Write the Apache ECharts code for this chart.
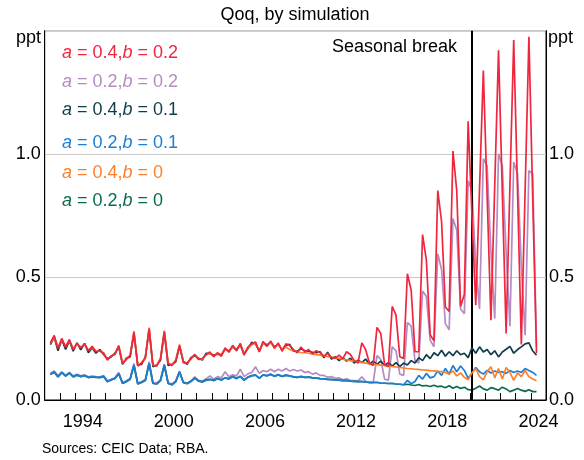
<!DOCTYPE html>
<html>
<head>
<meta charset="utf-8">
<script src="https://cdn.jsdelivr.net/npm/echarts@6/dist/echarts.min.js"></script>
<style>html,body{margin:0;padding:0;background:#fff}#c{width:584px;height:460px}</style>
</head>
<body>
<div id="c"></div>
<script>
// Quarterly observations, 1992 Q2 to 2024 Q2
const firstYear = 1992, firstQ = 2, nObs = 129;
const quarters = [];
for (let i = 0; i < nObs; i++) {
  const k = (firstQ - 1) + i;
  quarters.push((firstYear + Math.floor(k / 4)) + 'Q' + (k % 4 + 1));
}
const breakQuarter = '2020Q1';
const yTicks = [0, 0.5, 1.0];
const xTickLabels = [1994, 2000, 2006, 2012, 2018, 2024];
const xTickYears = [1993,1994,1995,1996,1997,1998,1999,2000,2001,2002,2003,2004,2005,2006,2007,2008,
  2009,2010,2011,2012,2013,2014,2015,2016,2017,2018,2019,2020,2021,2022,2023,2024];

const red = [
0.232,0.262,0.210,
0.250,0.215,0.246,0.205, 0.230,0.212,0.228,0.200, 0.218,0.196,0.200,0.190, 0.162,0.180,0.185,0.220,
0.148,0.165,0.180,0.276, 0.138,0.150,0.170,0.290, 0.140,0.138,0.168,0.278, 0.148,0.140,0.160,0.222,
0.152,0.150,0.168,0.185, 0.165,0.168,0.185,0.195, 0.176,0.192,0.178,0.212, 0.195,0.222,0.200,0.230,
0.182,0.215,0.228,0.236, 0.195,0.238,0.218,0.240, 0.210,0.232,0.198,0.228, 0.222,0.205,0.192,0.215,
0.195,0.205,0.188,0.200, 0.192,0.178,0.190,0.172, 0.170,0.182,0.168,0.196, 0.185,0.160,0.150,0.232,
0.205,0.150,0.140,0.295, 0.270,0.143,0.135,0.380, 0.345,0.176,0.169,0.513, 0.446,0.196,0.196,0.672,
0.567,0.265,0.240,0.851, 0.725,0.378,0.360,1.011, 0.850,0.380,0.430,1.132, 0.750,0.385,0.860,1.338,
0.830,0.324,0.870,1.420, 0.840,0.270,0.870,1.462, 0.850,0.226,0.850,1.475,
0.820,0.190];
const lilac = [
0.108,0.118,0.098,
0.114,0.100,0.112,0.097, 0.104,0.098,0.102,0.094, 0.097,0.095,0.094,0.099, 0.078,0.084,0.090,0.112,
0.071,0.078,0.088,0.148, 0.069,0.075,0.083,0.156, 0.071,0.069,0.083,0.146, 0.071,0.065,0.078,0.118,
0.073,0.069,0.077,0.094, 0.080,0.076,0.086,0.098, 0.085,0.095,0.090,0.115, 0.095,0.102,0.098,0.125,
0.095,0.106,0.112,0.135, 0.108,0.120,0.115,0.125, 0.115,0.125,0.118,0.128, 0.118,0.124,0.118,0.122,
0.112,0.115,0.105,0.110, 0.100,0.100,0.092,0.095, 0.088,0.090,0.082,0.086, 0.080,0.079,0.078,0.094,
0.076,0.068,0.070,0.180, 0.165,0.085,0.080,0.216, 0.200,0.105,0.100,0.315, 0.300,0.160,0.150,0.443,
0.420,0.243,0.216,0.594, 0.530,0.310,0.285,0.737, 0.690,0.370,0.350,0.890, 0.850,0.550,0.370,0.980,
0.950,0.600,0.330,1.000, 0.950,0.600,0.300,0.967, 0.920,0.550,0.263,0.932,
0.918,0.220];
const teal = [
0.225,0.255,0.200,
0.245,0.205,0.240,0.198, 0.232,0.204,0.230,0.192, 0.212,0.190,0.205,0.185, 0.168,0.175,0.190,0.215,
0.145,0.170,0.175,0.270, 0.142,0.145,0.175,0.285, 0.135,0.142,0.162,0.275, 0.140,0.145,0.155,0.218,
0.158,0.145,0.172,0.180, 0.170,0.162,0.190,0.188, 0.182,0.186,0.184,0.205, 0.200,0.215,0.206,0.222,
0.188,0.208,0.234,0.228, 0.200,0.232,0.224,0.234, 0.216,0.226,0.204,0.222, 0.226,0.198,0.198,0.208,
0.200,0.198,0.194,0.192, 0.196,0.172,0.194,0.166, 0.176,0.160,0.172,0.158, 0.170,0.150,0.162,0.152,
0.166,0.146,0.158,0.145, 0.158,0.140,0.152,0.138, 0.152,0.136,0.150,0.142, 0.160,0.150,0.172,0.160,
0.184,0.168,0.192,0.180, 0.202,0.178,0.196,0.180, 0.200,0.184,0.190,0.172, 0.212,0.190,0.216,0.195,
0.205,0.184,0.200,0.175, 0.195,0.206,0.218,0.190, 0.205,0.216,0.228,0.232,
0.200,0.182];
const blue = [
0.105,0.115,0.095,
0.112,0.098,0.110,0.095, 0.102,0.096,0.100,0.092, 0.095,0.093,0.092,0.096, 0.075,0.082,0.088,0.108,
0.068,0.075,0.085,0.142, 0.066,0.072,0.080,0.150, 0.068,0.066,0.080,0.142, 0.068,0.062,0.075,0.115,
0.070,0.066,0.074,0.090, 0.076,0.072,0.080,0.084, 0.078,0.086,0.080,0.090, 0.085,0.094,0.086,0.096,
0.080,0.092,0.098,0.102, 0.088,0.102,0.098,0.105, 0.096,0.103,0.096,0.102, 0.098,0.094,0.092,0.096,
0.092,0.094,0.090,0.090, 0.087,0.086,0.084,0.084, 0.082,0.081,0.079,0.080, 0.077,0.076,0.075,0.076,
0.073,0.072,0.071,0.072, 0.069,0.068,0.067,0.068, 0.065,0.064,0.062,0.080, 0.066,0.075,0.100,0.085,
0.108,0.090,0.095,0.118, 0.100,0.128,0.105,0.140, 0.115,0.138,0.120,0.088, 0.110,0.132,0.115,0.105,
0.120,0.110,0.118,0.112, 0.115,0.108,0.120,0.112, 0.118,0.112,0.128,0.120,
0.112,0.100];
const orange = [
0.230,0.258,0.212,
0.246,0.218,0.242,0.208, 0.228,0.214,0.226,0.202, 0.215,0.198,0.198,0.192, 0.165,0.178,0.186,0.222,
0.150,0.166,0.182,0.280, 0.140,0.152,0.172,0.294, 0.142,0.140,0.170,0.282, 0.150,0.142,0.162,0.226,
0.154,0.150,0.166,0.186, 0.165,0.166,0.182,0.192, 0.176,0.190,0.178,0.208, 0.194,0.218,0.200,0.226,
0.184,0.212,0.224,0.232, 0.198,0.232,0.218,0.234, 0.212,0.226,0.205,0.215, 0.205,0.200,0.196,0.193,
0.192,0.190,0.186,0.184, 0.182,0.179,0.176,0.174, 0.172,0.169,0.166,0.163, 0.160,0.158,0.155,0.153,
0.150,0.148,0.146,0.144, 0.142,0.140,0.138,0.136, 0.134,0.132,0.130,0.128, 0.127,0.125,0.124,0.122,
0.121,0.119,0.118,0.116, 0.115,0.113,0.105,0.118, 0.098,0.110,0.092,0.082, 0.110,0.128,0.095,0.082,
0.115,0.135,0.090,0.128, 0.085,0.132,0.112,0.080, 0.110,0.095,0.120,0.095,
0.085,0.078];
const green = [
0.104,0.113,0.094,
0.111,0.097,0.109,0.094, 0.101,0.095,0.099,0.091, 0.094,0.092,0.091,0.095, 0.074,0.081,0.087,0.106,
0.067,0.074,0.084,0.140, 0.065,0.071,0.079,0.147, 0.067,0.065,0.079,0.140, 0.067,0.062,0.074,0.113,
0.071,0.067,0.076,0.088, 0.078,0.074,0.082,0.084, 0.080,0.087,0.082,0.090, 0.087,0.095,0.088,0.096,
0.082,0.093,0.099,0.101, 0.089,0.102,0.099,0.104, 0.097,0.102,0.096,0.100, 0.098,0.094,0.092,0.095,
0.092,0.093,0.090,0.089, 0.087,0.086,0.084,0.083, 0.082,0.081,0.079,0.079, 0.077,0.076,0.075,0.075,
0.073,0.072,0.071,0.071, 0.069,0.068,0.067,0.067, 0.065,0.064,0.062,0.064, 0.061,0.059,0.063,0.057,
0.059,0.055,0.060,0.054, 0.056,0.050,0.058,0.048, 0.055,0.047,0.052,0.042, 0.040,0.048,0.057,0.045,
0.040,0.050,0.046,0.040, 0.052,0.045,0.034,0.040, 0.047,0.040,0.035,0.042,
0.034,0.034];

const seriesDefs = [
  {name: 'a = 0.2,b = 0.2', data: lilac, color: '#b48cc3'},
  {name: 'a = 0.2,b = 0',   data: green, color: '#0b6b52'},
  {name: 'a = 0.2,b = 0.1', data: blue,  color: '#1b7fd6'},
  {name: 'a = 0.4,b = 0.1', data: teal,  color: '#0f3d4c'},
  {name: 'a = 0.4,b = 0',   data: orange,color: '#ff7f2a'},
  {name: 'a = 0.4,b = 0.2', data: red,   color: '#f0263e'}
];
const legendOrder = [
  ['{i|a} = 0.4,{i|b} = 0.2', '#f0263e', 53],
  ['{i|a} = 0.2,{i|b} = 0.2', '#b48cc3', 82],
  ['{i|a} = 0.4,{i|b} = 0.1', '#0f3d4c', 110],
  ['{i|a} = 0.2,{i|b} = 0.1', '#1b7fd6', 143],
  ['{i|a} = 0.4,{i|b} = 0',   '#ff7f2a', 173],
  ['{i|a} = 0.2,{i|b} = 0',   '#0b6b52', 201]
];

function qToX(q) {
  const y = parseInt(q.slice(0, 4), 10), n = parseInt(q.slice(5), 10);
  return y + (n - 0.5) / 4;
}
const xs = quarters.map(qToX);
const FONT = 'Arial, "Liberation Sans", sans-serif';

// tick length: 7 px expressed in y-axis units (plot height 369.3 px spans 1.5)
const yMax = 1.5, plotHeightPx = 369.3, tickPx = 7;
const tickLen = tickPx * yMax / plotHeightPx;

const series = seriesDefs.map((s, idx) => ({
  type: 'line', name: s.name, symbol: 'none', silent: true,
  xAxisIndex: 0, yAxisIndex: 0,
  data: s.data.map((v, i) => [xs[i], v]),
  lineStyle: {color: s.color, width: 1.7},
  z: 2 + idx
}));

// Break line and year ticks as mark lines (positioned by the chart's scales)
series.push({
  type: 'line', name: 'axis marks', data: [], silent: true, symbol: 'none', z: 20,
  xAxisIndex: 0, yAxisIndex: 0,
  markLine: {
    silent: true, symbol: 'none', label: {show: false}, animation: false,
    data: [
      {xAxis: qToX(breakQuarter), lineStyle: {color: '#000', width: 2, type: 'solid'}}
    ].concat(xTickYears.map(y => [
      {coord: [y, 0], lineStyle: {color: '#000', width: 1, type: 'solid'}},
      {coord: [y, tickLen]}
    ]))
  }
});

const chart = echarts.init(document.getElementById('c'), null, {renderer: 'canvas'});
chart.setOption({
  animation: false,
  backgroundColor: '#fff',
  grid: {left: 44.7, right: 38, top: 30.7, bottom: 60, show: true, borderColor: '#000', borderWidth: 1, containLabel: false},
  xAxis: [
    {
      type: 'value', min: 1992, max: 2025, interval: 1, position: 'bottom',
      axisLine: {show: true, onZero: false, lineStyle: {color: '#000', width: 1}},
      axisTick: {show: false},
      axisLabel: {show: false},
      splitLine: {show: false}
    },
    {
      // label axis: shifted half a year so labels sit mid-year
      type: 'value', min: 1991.5, max: 2024.5, interval: 0.5, position: 'bottom', offset: 0,
      axisLine: {show: false, onZero: false},
      axisTick: {show: false},
      axisLabel: {show: true, showMinLabel: false, showMaxLabel: false,
        formatter: v => (xTickLabels.indexOf(v) >= 0 ? String(v) : ''),
        color: '#000', fontSize: 18, fontFamily: FONT, margin: 13},
      splitLine: {show: false}
    }
  ],
  yAxis: [
    {type: 'value', min: 0, max: yMax, interval: 0.5, position: 'left',
      axisLine: {show: true, onZero: false, lineStyle: {color: '#000'}}, axisTick: {show: false},
      axisLabel: {formatter: v => yTicks.indexOf(v) >= 0 ? v.toFixed(1) : '', color: '#000', fontSize: 18, fontFamily: FONT, margin: 4},
      splitLine: {show: true, lineStyle: {color: '#c8c8c8', width: 1}}},
    {type: 'value', min: 0, max: yMax, interval: 0.5, position: 'right',
      axisLine: {show: true, onZero: false, lineStyle: {color: '#000'}}, axisTick: {show: false},
      axisLabel: {formatter: v => yTicks.indexOf(v) >= 0 ? v.toFixed(1) : '', color: '#000', fontSize: 18, fontFamily: FONT, margin: 3},
      splitLine: {show: false}}
  ],
  series: series,
  graphic: [
    {type: 'text', x: 295, y: 15, style: {text: 'Qoq, by simulation', font: '18px ' + FONT, fill: '#000', textAlign: 'center', textVerticalAlign: 'middle'}},
    {type: 'text', x: 41, y: 38, style: {text: 'ppt', font: '18px ' + FONT, fill: '#000', textAlign: 'right', textVerticalAlign: 'middle'}},
    {type: 'text', x: 548, y: 38, style: {text: 'ppt', font: '18px ' + FONT, fill: '#000', textAlign: 'left', textVerticalAlign: 'middle'}},
    {type: 'text', x: 457, y: 47, style: {text: 'Seasonal break', font: '18px ' + FONT, fill: '#000', textAlign: 'right', textVerticalAlign: 'middle'}},
    {type: 'text', x: 42, y: 449, style: {text: 'Sources: CEIC Data; RBA.', font: '14px ' + FONT, fill: '#000', textAlign: 'left', textVerticalAlign: 'middle'}}
  ].concat(legendOrder.map(l => ({
    type: 'text', x: 62, y: l[2], z: 100,
    style: {text: l[0], fill: l[1], font: '18px ' + FONT, textVerticalAlign: 'middle',
      rich: {i: {fontStyle: 'italic', fontSize: 18, fontFamily: FONT, fill: l[1], color: l[1]}}}
  })))
});
</script>
</body>
</html>
